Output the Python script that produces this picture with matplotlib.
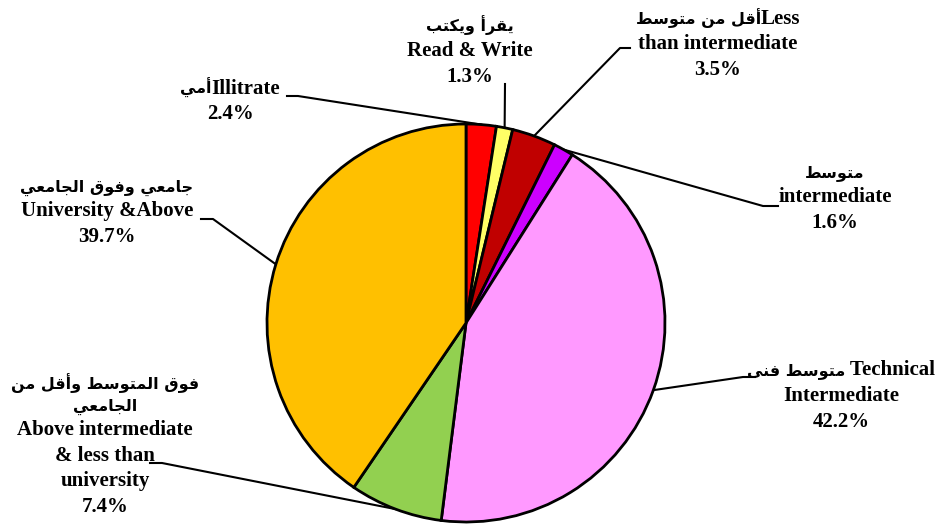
import numpy as np
import matplotlib.pyplot as plt
from matplotlib.offsetbox import TextArea, HPacker, VPacker, AnnotationBbox

# data (clockwise from 12 o'clock)
values = [2.4, 1.3, 3.5, 1.6, 42.2, 7.4, 39.7]
colors = ['#FF0000', '#FFFF66', '#C00000', '#CC00FF', '#FF99FF', '#92D050', '#FFC000']
labels_en = ['Illitrate', 'Read & Write', 'Less\nthan intermediate', 'intermediate',
             ' Technical\nIntermediate', 'Above intermediate\n& less than\nuniversity',
             'University &Above']
labels_ar = ['أمي', 'يقرأ ويكتب', 'أقل من متوسط', 'متوسط', 'متوسط فنى',
             'فوق المتوسط وأقل من\nالجامعي', 'جامعي وفوق الجامعي']
# arabic text sits on the same line as the first english line
inline = [True, False, True, False, True, False, False]

# arabic presentation forms: isolated, final, initial, medial
FORMS = {
    'ا': (0xFE8D, 0xFE8E, None, None), 'أ': (0xFE83, 0xFE84, None, None),
    'ب': (0xFE8F, 0xFE90, 0xFE91, 0xFE92), 'ت': (0xFE95, 0xFE96, 0xFE97, 0xFE98),
    'ج': (0xFE9D, 0xFE9E, 0xFE9F, 0xFEA0), 'ر': (0xFEAD, 0xFEAE, None, None),
    'س': (0xFEB1, 0xFEB2, 0xFEB3, 0xFEB4), 'ط': (0xFEC1, 0xFEC2, 0xFEC3, 0xFEC4),
    'ع': (0xFEC9, 0xFECA, 0xFECB, 0xFECC), 'ف': (0xFED1, 0xFED2, 0xFED3, 0xFED4),
    'ق': (0xFED5, 0xFED6, 0xFED7, 0xFED8), 'ك': (0xFED9, 0xFEDA, 0xFEDB, 0xFEDC),
    'ل': (0xFEDD, 0xFEDE, 0xFEDF, 0xFEE0), 'م': (0xFEE1, 0xFEE2, 0xFEE3, 0xFEE4),
    'ن': (0xFEE5, 0xFEE6, 0xFEE7, 0xFEE8), 'و': (0xFEED, 0xFEEE, None, None),
    'ى': (0xFEEF, 0xFEF0, None, None), 'ي': (0xFEF1, 0xFEF2, 0xFEF3, 0xFEF4),
}


def shape(s):
    # join letters and put them in visual (right to left) order
    out = []
    for i, ch in enumerate(s):
        if ch not in FORMS:
            out.append(ch)
            continue
        f = FORMS[ch]
        prev = s[i - 1] if i > 0 else ''
        nxt = s[i + 1] if i + 1 < len(s) else ''
        jp = prev in FORMS and FORMS[prev][2] is not None
        jn = f[2] is not None and nxt in FORMS
        if jp and jn:
            c = f[3]
        elif jp:
            c = f[1]
        elif jn:
            c = f[2]
        else:
            c = f[0]
        out.append(chr(c))
    return ''.join(out)[::-1]


latin = dict(family='Liberation Serif', weight='bold', size=15, color='black')
arab = dict(family='DejaVu Sans', weight='bold', size=11.5, color='black')


def make_label(en, arabic, pct, joined):
    ar_lines = [TextArea(shape(s), textprops=arab) for s in arabic.split('\n')]
    en_lines = [TextArea(s, textprops=latin) for s in en.split('\n')]
    if joined:
        first = HPacker(children=[ar_lines[-1], en_lines[0]], align='baseline', pad=0, sep=0)
        rows = ar_lines[:-1] + [first] + en_lines[1:]
    else:
        rows = ar_lines + en_lines
    rows.append(TextArea(f'{pct}%', textprops=latin))
    return VPacker(children=rows, align='center', pad=0, sep=4)


W, H = 944, 524
cx, cy, R = 466, 323, 199


def px(x, y):
    return (x - cx) / R, (cy - y) / R


# label centres, leader start and elbow (pixels)
text_pos = [(230, 101), (470, 51), (718, 44), (835, 199), (841, 396), (105, 445), (107, 213)]
lead_start = [(287, 96), (505, 84), (630, 48), (778, 206), (755, 377), (150, 463), (201, 219)]
lead_elbow = [(298, 96), (505, 84), (620, 48), (763, 206), (743, 377), (162, 463), (213, 219)]

fig = plt.figure(figsize=(W / 100, H / 100), dpi=100)
ax = fig.add_axes([0, 0, 1, 1])
ax.pie(values, colors=colors, startangle=90, counterclock=False, radius=1,
       wedgeprops=dict(edgecolor='black', linewidth=2))
ax.set_xlim(-cx / R, (W - cx) / R)
ax.set_ylim(-(H - cy) / R, cy / R)
ax.set_aspect('auto')
ax.axis('off')

frac = np.array(values) / sum(values)
mids = np.cumsum(frac) - frac / 2

for i in range(len(values)):
    ang = np.deg2rad(90 - 360 * mids[i])
    ex, ey = np.cos(ang), np.sin(ang)
    sx, sy = px(*lead_start[i])
    bx, by = px(*lead_elbow[i])
    ax.plot([sx, bx, ex], [sy, by, ey], color='black', lw=1.5, zorder=0)
    box = make_label(labels_en[i], labels_ar[i], values[i], inline[i])
    ab = AnnotationBbox(box, px(*text_pos[i]), frameon=False, box_alignment=(0.5, 0.5),
                        pad=0)
    ax.add_artist(ab)

fig.savefig('out.png', dpi=100)
